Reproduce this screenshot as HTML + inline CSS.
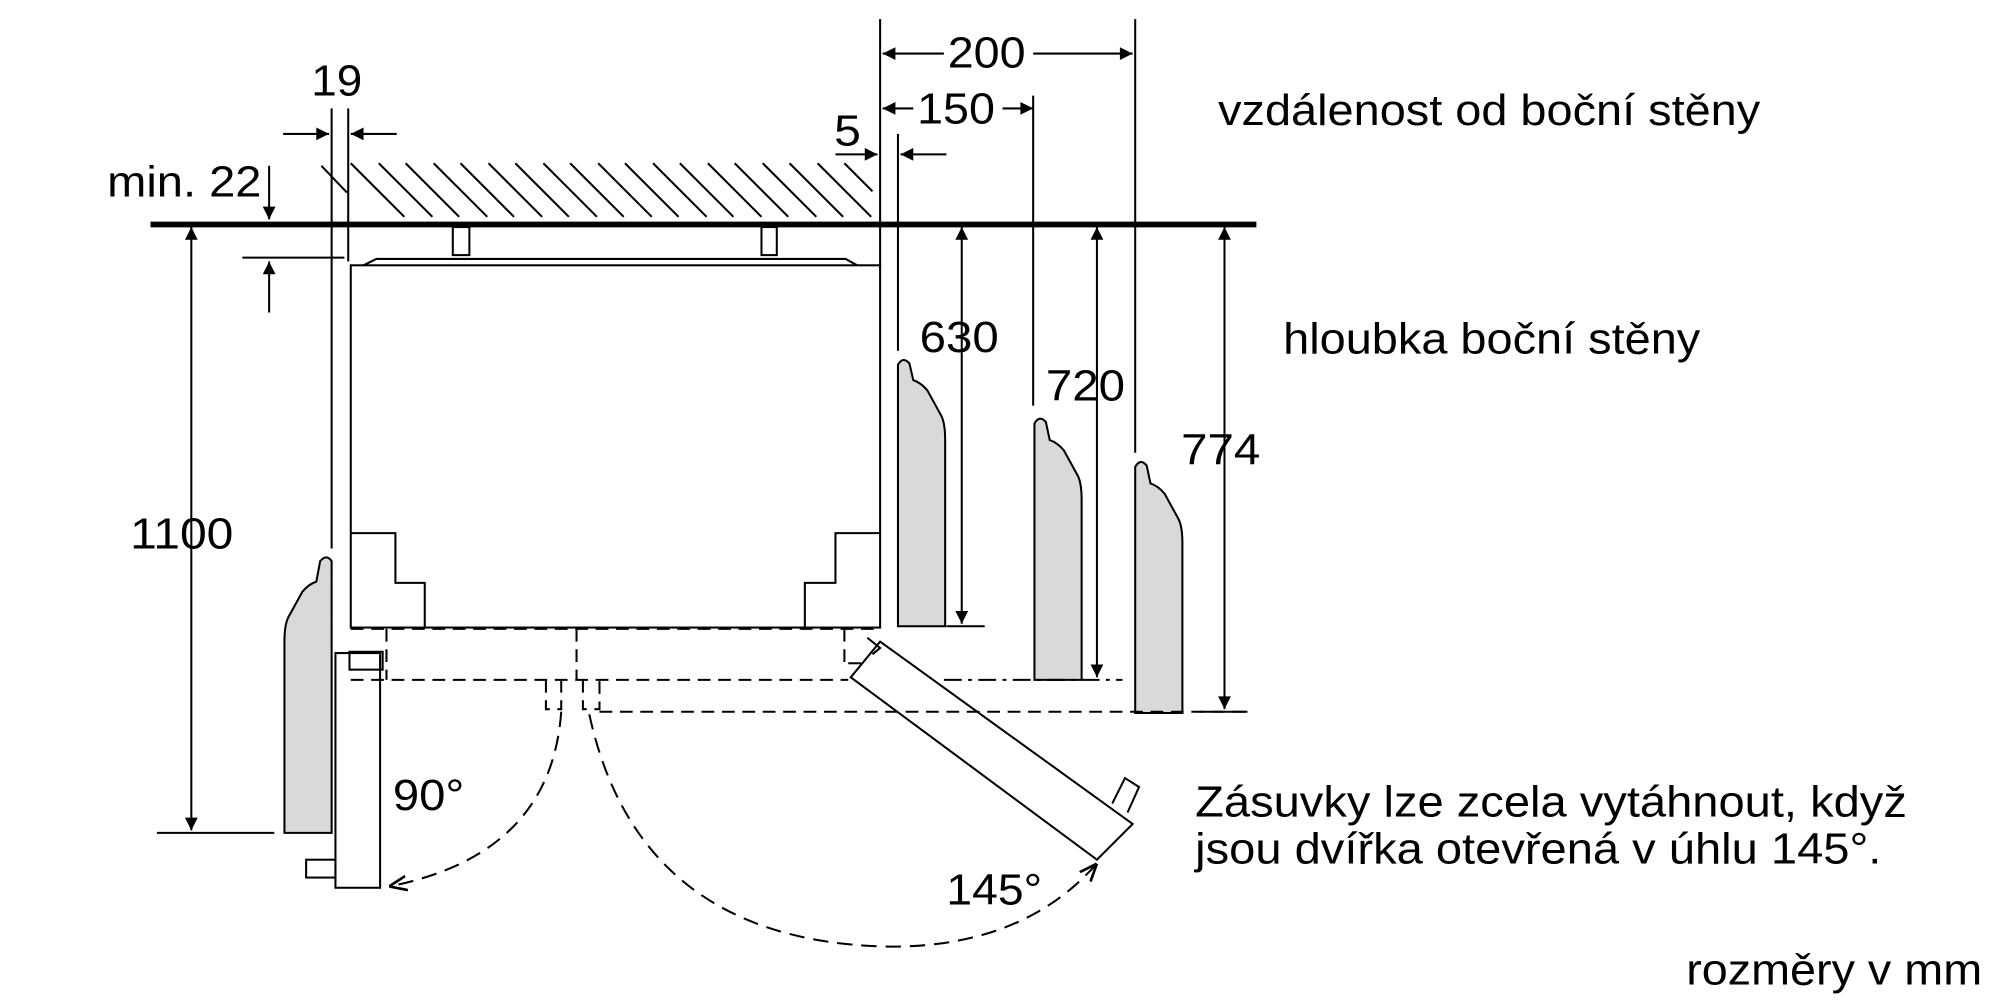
<!DOCTYPE html>
<html><head><meta charset="utf-8"><style>html,body{margin:0;padding:0;background:#fff}svg{display:block}</style></head>
<body>
<svg width="2000" height="1000" viewBox="0 0 1568 784" preserveAspectRatio="none" xmlns="http://www.w3.org/2000/svg" font-family="'Liberation Sans', Arial, sans-serif" font-size="34" fill="#000">
<defs>
<marker id="a" viewBox="0 0 10 10" refX="10" refY="5" markerWidth="12" markerHeight="10" orient="auto-start-reverse" markerUnits="userSpaceOnUse"><path d="M0,0 L10,5 L0,10 Z" fill="#000"/></marker>
<marker id="b" viewBox="0 0 10 10" refX="10" refY="5" markerWidth="14" markerHeight="14" orient="auto-start-reverse" markerUnits="userSpaceOnUse"><path d="M0,1 L10,5 L0,9" fill="none" stroke="#000" stroke-width="1.5"/></marker>
</defs>
<g stroke="#000" stroke-width="1.6" fill="none">
<line x1="252" y1="130" x2="272" y2="151"/>
<line x1="275" y1="128" x2="317" y2="170"/><line x1="297" y1="128" x2="339" y2="170"/><line x1="318" y1="128" x2="360" y2="170"/><line x1="340" y1="128" x2="382" y2="170"/><line x1="361" y1="128" x2="403" y2="170"/><line x1="383" y1="128" x2="425" y2="170"/><line x1="404" y1="128" x2="446" y2="170"/><line x1="426" y1="128" x2="468" y2="170"/><line x1="447" y1="128" x2="489" y2="170"/><line x1="469" y1="128" x2="511" y2="170"/><line x1="490" y1="128" x2="532" y2="170"/><line x1="512" y1="128" x2="554" y2="170"/><line x1="533" y1="128" x2="575" y2="170"/><line x1="555" y1="128" x2="597" y2="170"/><line x1="576" y1="128" x2="618" y2="170"/><line x1="598" y1="128" x2="640" y2="170"/><line x1="619" y1="128" x2="661" y2="170"/><line x1="641" y1="128" x2="683" y2="170"/><line x1="662" y1="128" x2="684" y2="150"/>
<line x1="118" y1="176" x2="985" y2="176" stroke-width="4.5"/>
<line x1="260" y1="85" x2="260" y2="430"/>
<line x1="273" y1="85" x2="273" y2="205"/>
<line x1="690" y1="15" x2="690" y2="210"/>
<line x1="704" y1="105" x2="704" y2="275"/>
<line x1="810" y1="75" x2="810" y2="318"/>
<line x1="890" y1="15" x2="890" y2="355"/>
<line x1="692" y1="42" x2="740" y2="42" marker-start="url(#a)"/>
<line x1="810" y1="42" x2="888" y2="42" marker-end="url(#a)"/>
<line x1="692" y1="85" x2="716" y2="85" marker-start="url(#a)"/>
<line x1="786" y1="85" x2="810" y2="85" marker-end="url(#a)"/>
<line x1="655" y1="121" x2="688" y2="121" marker-end="url(#a)"/>
<line x1="742" y1="121" x2="706" y2="121" marker-end="url(#a)"/>
<line x1="222" y1="105" x2="258" y2="105" marker-end="url(#a)"/>
<line x1="311" y1="105" x2="275" y2="105" marker-end="url(#a)"/>
<line x1="211" y1="130" x2="211" y2="172" marker-end="url(#a)"/>
<line x1="190" y1="202" x2="270" y2="202"/>
<line x1="211" y1="245" x2="211" y2="205" marker-end="url(#a)"/>
<rect x="275" y="208" width="415" height="284"/>
<path d="M285,208 L295,203 L663,203 L672,208"/>
<rect x="355" y="178" width="13" height="22"/>
<rect x="597" y="178" width="12" height="22"/>
<path d="M275,418 L310,418 L310,457 L333,457 L333,492"/>
<path d="M690,418 L655,418 L655,457 L631,457 L631,492"/>
<line x1="150" y1="178" x2="150" y2="651" marker-start="url(#a)" marker-end="url(#a)"/>
<line x1="123" y1="653" x2="215" y2="653"/>
<line x1="754" y1="178" x2="754" y2="489" marker-start="url(#a)" marker-end="url(#a)"/>
<line x1="742" y1="491" x2="772" y2="491"/>
<line x1="860" y1="178" x2="860" y2="531" marker-start="url(#a)" marker-end="url(#a)"/>
<line x1="960" y1="178" x2="960" y2="556" marker-start="url(#a)" marker-end="url(#a)"/>
<line x1="940" y1="558" x2="978" y2="558"/>
<g fill="#d9d9d9">
<path d="M704,491 L704,286 Q708,279 713,285 L716,298 Q722,300 727,306 L738,326 Q741,332 741,345 L741,491 Z"/>
<path d="M811,533 L811,332 Q815,325 820,331 L823,345 Q829,347 834,353 L845,373 Q848,379 848,392 L848,533 Z"/>
<path d="M890,559 L890,366 Q894,359 899,365 L902,379 Q908,381 913,387 L924,407 Q927,413 927,426 L927,559 Z"/>
<path d="M260,653 L260,440 Q256,434 251,440 L248,456 Q242,458 237,464 L226,484 Q223,490 223,503 L223,653 Z"/>
</g>
<g stroke-dasharray="10,6">
<line x1="275" y1="493" x2="690" y2="493"/>
<line x1="275" y1="533" x2="665" y2="533"/>
<line x1="470" y1="558" x2="980" y2="558"/>
<line x1="452" y1="493" x2="452" y2="533"/>
<line x1="303" y1="493" x2="303" y2="533"/>
<line x1="662" y1="493" x2="662" y2="520"/>
<path d="M428,533 L428,556 L440,556 L440,533"/>
<path d="M457,533 L457,556 L470,556 L470,533"/>
<line x1="665" y1="520" x2="680" y2="520"/>
</g>
<line x1="740" y1="533" x2="880" y2="533" stroke-dasharray="14,5,3,5"/>
<rect x="263" y="512" width="35" height="184"/>
<rect x="240" y="674" width="23" height="14"/>
<rect x="274" y="511" width="26" height="14"/>
<path d="M690,503 L888,646 L860,674 L667,531 Z"/>
<path d="M872,630 L882,610 L893,617 L884,637"/>
<path d="M680,500 L690,508 L684,513"/>
<path d="M440,558 Q432,670 305,695" stroke-dasharray="12,7" marker-end="url(#b)"/>
<path d="M462,560 Q500,735 690,742 Q800,745 860,677" stroke-dasharray="12,7" marker-end="url(#b)"/>
</g>
<g stroke="none" lengthAdjust="spacingAndGlyphs">
<text x="743" y="53" textLength="61" lengthAdjust="spacingAndGlyphs">200</text>
<text x="719" y="97" textLength="61" lengthAdjust="spacingAndGlyphs">150</text>
<text x="654" y="114" textLength="21" lengthAdjust="spacingAndGlyphs">5</text>
<text x="244" y="75" textLength="40" lengthAdjust="spacingAndGlyphs">19</text>
<text x="84" y="154" textLength="121" lengthAdjust="spacingAndGlyphs">min. 22</text>
<text x="102" y="430" textLength="81" lengthAdjust="spacingAndGlyphs">1100</text>
<text x="721" y="276" textLength="62" lengthAdjust="spacingAndGlyphs">630</text>
<text x="820" y="314" textLength="62" lengthAdjust="spacingAndGlyphs">720</text>
<text x="926" y="364" textLength="62" lengthAdjust="spacingAndGlyphs">774</text>
<text x="955" y="98" textLength="425" lengthAdjust="spacingAndGlyphs">vzdálenost od boční stěny</text>
<text x="1006" y="277" textLength="327" lengthAdjust="spacingAndGlyphs">hloubka boční stěny</text>
<text x="937" y="640" textLength="558" lengthAdjust="spacingAndGlyphs">Zásuvky lze zcela vytáhnout, když</text>
<text x="937" y="677" textLength="538" lengthAdjust="spacingAndGlyphs">jsou dvířka otevřená v úhlu 145°.</text>
<text x="308" y="635" textLength="56" lengthAdjust="spacingAndGlyphs">90°</text>
<text x="742" y="709" textLength="75" lengthAdjust="spacingAndGlyphs">145°</text>
<text x="1322" y="772" textLength="232" lengthAdjust="spacingAndGlyphs">rozměry v mm</text>
</g>
</svg>
</body></html>
